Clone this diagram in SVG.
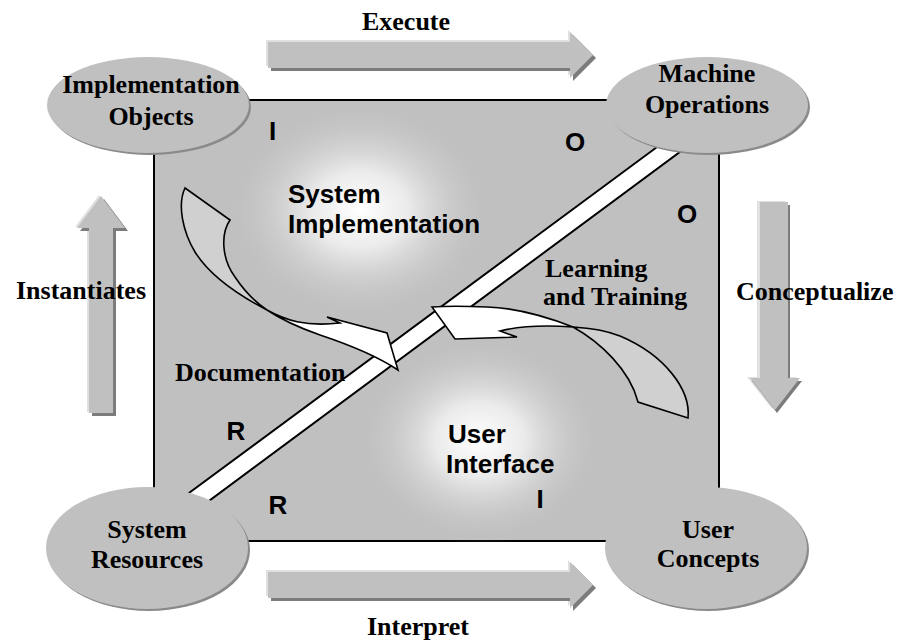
<svg xmlns="http://www.w3.org/2000/svg" width="898" height="642" viewBox="0 0 898 642">
<style>
.lbl{font-family:"Liberation Serif","Times New Roman",serif;font-weight:bold;font-size:26px;fill:#000}
.sans{font-family:"Liberation Sans",Arial,sans-serif;font-weight:bold;font-size:26px;fill:#000}
.body{fill:#c0c0c0}
.shd{fill:#7c7c7c}
.hl{fill:#e0e0e0}
.band{fill:#fff;stroke:#000;stroke-width:2;stroke-linejoin:miter}
.cw{fill:#fff;stroke:#000;stroke-width:1.6;stroke-linejoin:miter}
.cg{fill:#d0d0d0;stroke:#000;stroke-width:1.6}
.eshd{fill:#8a8a8a}
.efill{fill:#c0c0c0}
</style>
<defs>
<radialGradient id="glow">
<stop offset="0" stop-color="#ffffff" stop-opacity="1"/>
<stop offset="0.35" stop-color="#f0f0f0" stop-opacity="0.9"/>
<stop offset="1" stop-color="#c0c0c0" stop-opacity="0"/>
</radialGradient>
</defs>
<rect width="898" height="642" fill="#fff"/>

<g id="board">
<rect x="154" y="100" width="565" height="441" fill="#c0c0c0" stroke="#000" stroke-width="2"/>
<ellipse cx="360" cy="210" rx="135" ry="110" fill="url(#glow)"/>
<ellipse cx="480" cy="440" rx="125" ry="105" fill="url(#glow)"/>
</g>

<g id="connectors">
<polygon class="band" points="170,507 680,130 700,137 190,515"/>
<g id="doc-arrow">
<path class="cg" d="M185,188 L230,220 C221,233 221,258 235,277 C245,292 255,302 267,310 C240,296 210,276 195,252 C183,232 177,205 185,188 Z"/>
<path class="cw" d="M267,310 C285,320 305,327 340,323 L327,317 L387,333 L398,370 C380,358 350,345 320,335 C300,328 282,320 267,310 Z"/>
</g>
<g id="learn-arrow">
<path class="cg" d="M573,327 C600,342 630,370 638,402 L688,418 C691,390 665,355 620,336 C605,330 590,328 573,327 Z"/>
<path class="cw" d="M573,327 C550,318 520,308 487,307 C465,306 445,306 432,307 L455,339 L517,337 L500,331 C520,326 545,325 573,327 Z"/>
</g>
<g id="execute-arrow">
<polygon class="hl" points="266,40 568,40 568,30 591,53 568,76 568,66 266,66"/>
<polygon class="shd" points="271,45 573,45 573,35 596,58 573,81 573,71 271,71"/>
<polygon class="body" points="268,42 570,42 570,32 593,55 570,78 570,68 268,68"/>
</g>
<g id="interpret-arrow">
<polygon class="hl" points="266,570 568,570 568,560 591,583 568,606 568,596 266,596"/>
<polygon class="shd" points="271,575 573,575 573,565 596,588 573,611 573,601 271,601"/>
<polygon class="body" points="268,572 570,572 570,562 593,585 570,608 570,598 268,598"/>
</g>
<g id="instantiate-arrow">
<polygon class="hl" points="87,412 87,227 75,227 99,195 123,227 111,227 111,412"/>
<polygon class="shd" points="92,416 92,231 80,231 104,199 128,231 116,231 116,416"/>
<polygon class="body" points="89,413 89,228 77,228 101,196 125,228 113,228 113,413"/>
</g>
<g id="conceptualize-arrow">
<polygon class="hl" points="757,201 757,377 747,377 772,409 797,377 785,377 785,201"/>
<polygon class="shd" points="762,205 762,381 752,381 777,413 802,381 790,381 790,205"/>
<polygon class="body" points="760,202 760,378 750,378 775,410 800,378 788,378 788,202"/>
</g>
</g>

<g id="labels">
<text class="lbl" x="406" y="30" text-anchor="middle">Execute</text>
<text class="lbl" x="16" y="299">Instantiates</text>
<text class="lbl" x="736" y="300">Conceptualize</text>
<text class="lbl" x="418" y="635" text-anchor="middle">Interpret</text>
<text class="lbl" x="175" y="381">Documentation</text>
<text class="lbl" x="545" y="277">Learning</text>
<text class="lbl" x="543" y="305">and Training</text>
<text class="sans" x="288" y="203">System</text>
<text class="sans" x="288" y="233">Implementation</text>
<text class="sans" x="448" y="443">User</text>
<text class="sans" x="446" y="473">Interface</text>
<text class="sans" x="269" y="140">I</text>
<text class="sans" x="575" y="151" text-anchor="middle">O</text>
<text class="sans" x="687" y="223" text-anchor="middle">O</text>
<text class="sans" x="236" y="440" text-anchor="middle">R</text>
<text class="sans" x="278" y="514" text-anchor="middle">R</text>
<text class="sans" x="540" y="508" text-anchor="middle">I</text>
</g>

<g id="implementation-objects">
<ellipse cx="150" cy="107" rx="101" ry="48" class="eshd"/>
<ellipse cx="148" cy="105" rx="101" ry="48" class="efill"/>
<text class="lbl" x="151" y="93" text-anchor="middle">Implementation</text>
<text class="lbl" x="151" y="125" text-anchor="middle">Objects</text>
</g>
<g id="machine-operations">
<ellipse cx="709" cy="107" rx="101" ry="48" class="eshd"/>
<ellipse cx="707" cy="105" rx="101" ry="48" class="efill"/>
<text class="lbl" x="707" y="82" text-anchor="middle">Machine</text>
<text class="lbl" x="707" y="113" text-anchor="middle">Operations</text>
</g>
<g id="system-resources">
<ellipse cx="149" cy="550" rx="101" ry="61" class="eshd"/>
<ellipse cx="147" cy="548" rx="101" ry="61" class="efill"/>
<text class="lbl" x="147" y="538" text-anchor="middle">System</text>
<text class="lbl" x="147" y="568" text-anchor="middle">Resources</text>
</g>
<g id="user-concepts">
<ellipse cx="708" cy="550" rx="101" ry="61" class="eshd"/>
<ellipse cx="706" cy="548" rx="101" ry="61" class="efill"/>
<text class="lbl" x="708" y="538" text-anchor="middle">User</text>
<text class="lbl" x="708" y="567" text-anchor="middle">Concepts</text>
</g>
</svg>
